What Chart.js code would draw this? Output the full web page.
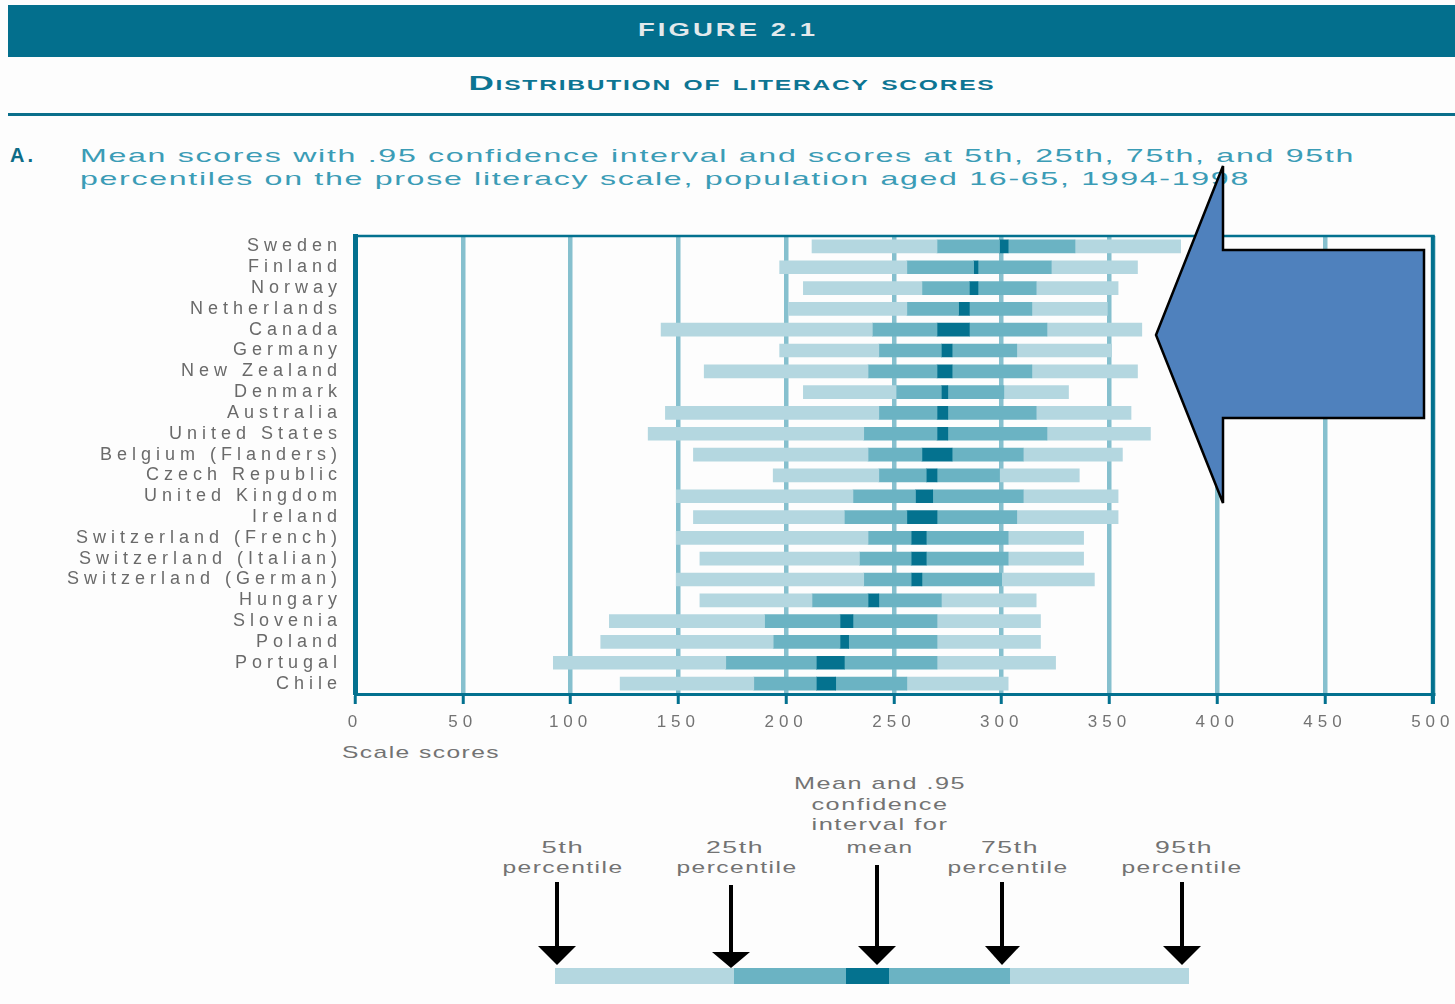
<!DOCTYPE html>
<html>
<head>
<meta charset="utf-8">
<title>Figure 2.1 - Distribution of literacy scores</title>
<script src="https://cdn.jsdelivr.net/npm/chart.js@4.4.1/dist/chart.umd.min.js"></script>
<style>
  body { margin: 0; background: #fdfdfd; font-family: "Liberation Sans", Arial, sans-serif; }
  #page { position: relative; width: 1455px; height: 1004px; overflow: hidden; }
  .abs { position: absolute; white-space: nowrap; line-height: 1; }
  .grey { color: #737373; font-size: 17px; letter-spacing: 1px; }
  #band { left: 8px; top: 5px; width: 1447px; height: 52px; background: #036f8d; }
  #rule { left: 8px; top: 113px; width: 1447px; height: 3px; background: #0a6f8b; }
  #chartBox { position: absolute; left: 0; top: 200px; width: 1455px; height: 534px; }
  #overlay { position: absolute; left: 0; top: 0; }
</style>
</head>
<body>
<div id="page">
  <div class="abs" id="band"></div>
  <div class="abs mid fit" data-w="180" style="left:728px; top:21px; font-size:18px; font-weight:bold; letter-spacing:2px; color:#e2e9ec;">FIGURE 2.1</div>
  <div class="abs mid fit" data-w="527" style="left:732px; top:73px; font-size:20px; font-weight:bold; font-variant:small-caps; letter-spacing:1px; color:#0d7593;">Distribution of literacy scores</div>
  <div class="abs" id="rule"></div>

  <div class="abs" style="left:10px; top:145px; font-size:20px; font-weight:bold; color:#0e6c86; letter-spacing:3px;">A.</div>
  <div class="abs fit" data-w="1275" style="left:80px; top:146px; font-size:19px; letter-spacing:1px; color:#3b9cb6;">Mean scores with .95 confidence interval and scores at 5th, 25th, 75th, and 95th</div>
  <div class="abs fit" data-w="1170" style="left:80px; top:169px; font-size:19px; letter-spacing:1px; color:#3b9cb6;">percentiles on the prose literacy scale, population aged 16-65, 1994-1998</div>

  <div id="chartBox"><canvas id="chart"></canvas></div>

  <div class="abs grey fit" data-w="158" style="left:342px; top:744px;">Scale scores</div>

  <div class="abs grey mid fit" data-w="172" style="left:880px; top:775px;">Mean and .95</div>
  <div class="abs grey mid fit" data-w="137" style="left:880px; top:796px;">confidence</div>
  <div class="abs grey mid fit" data-w="137" style="left:880px; top:816px;">interval for</div>
  <div class="abs grey mid fit" data-w="67" style="left:880px; top:839px;">mean</div>
  <div class="abs grey mid fit" data-w="43" style="left:563px; top:839px;">5th</div>
  <div class="abs grey mid fit" data-w="121" style="left:563px; top:859px;">percentile</div>
  <div class="abs grey mid fit" data-w="58" style="left:735px; top:839px;">25th</div>
  <div class="abs grey mid fit" data-w="121" style="left:737px; top:859px;">percentile</div>
  <div class="abs grey mid fit" data-w="58" style="left:1010px; top:839px;">75th</div>
  <div class="abs grey mid fit" data-w="121" style="left:1008px; top:859px;">percentile</div>
  <div class="abs grey mid fit" data-w="58" style="left:1184px; top:839px;">95th</div>
  <div class="abs grey mid fit" data-w="121" style="left:1182px; top:859px;">percentile</div>

  <svg id="overlay" width="1455" height="1004">
    <!-- pointer arrow over the chart -->
    <polygon points="1156,335 1223,166 1223,250 1424,250 1424,418 1223,418 1223,503"
             fill="#4f81bd" stroke="#000" stroke-width="2.5" stroke-linejoin="miter"/>
    <!-- key bar under the chart -->
    <rect x="555" y="968" width="179" height="16" fill="#b4d7e0"/>
    <rect x="734" y="968" width="112" height="16" fill="#6bb3c3"/>
    <rect x="846" y="968" width="43" height="16" fill="#04728f"/>
    <rect x="889" y="968" width="121" height="16" fill="#6bb3c3"/>
    <rect x="1010" y="968" width="179" height="16" fill="#b4d7e0"/>
    <g stroke="#000" stroke-width="4">
      <line x1="557" y1="882" x2="557" y2="950"/>
      <line x1="731" y1="885" x2="731" y2="955"/>
      <line x1="877" y1="865" x2="877" y2="950"/>
      <line x1="1002" y1="882" x2="1002" y2="950"/>
      <line x1="1182" y1="882" x2="1182" y2="950"/>
    </g>
    <g fill="#000">
      <polygon points="538,946 576,946 557,965"/>
      <polygon points="712,952 750,952 731,968"/>
      <polygon points="858,946 896,946 877,965"/>
      <polygon points="985,946 1020,946 1002,965"/>
      <polygon points="1163,946 1201,946 1182,965"/>
    </g>
  </svg>
</div>

<script>
// countries, top to bottom
const countries = ['Sweden', 'Finland', 'Norway', 'Netherlands', 'Canada', 'Germany', 'New Zealand',
  'Denmark', 'Australia', 'United States', 'Belgium (Flanders)', 'Czech Republic', 'United Kingdom',
  'Ireland', 'Switzerland (French)', 'Switzerland (Italian)', 'Switzerland (German)', 'Hungary',
  'Slovenia', 'Poland', 'Portugal', 'Chile'];

// scores
const p5   = [212, 197, 208, 201, 142, 197, 162, 208, 144, 136, 157, 194, 149, 157, 149, 160, 149, 160, 118, 114,  92, 123];
const p25  = [270, 256, 263, 256, 240, 243, 238, 251, 243, 236, 238, 243, 231, 227, 238, 234, 236, 212, 190, 194, 172, 185];
const ciLo = [299, 287, 285, 280, 270, 272, 270, 272, 270, 270, 263, 265, 260, 256, 258, 258, 258, 238, 225, 225, 214, 214];
const ciHi = [303, 289, 289, 285, 285, 277, 277, 275, 275, 275, 277, 270, 268, 270, 265, 265, 263, 243, 231, 229, 227, 223];
const p75  = [334, 323, 316, 314, 321, 307, 314, 301, 316, 321, 310, 299, 310, 307, 303, 303, 300, 272, 270, 270, 270, 256];
const p95  = [383, 363, 354, 349, 365, 351, 363, 331, 360, 369, 356, 336, 354, 354, 338, 338, 343, 316, 318, 318, 325, 303];

const xTicks = [0, 50, 100, 150, 200, 250, 300, 350, 400, 450, 500];

const LIGHT = '#b4d7e0', MID = '#6bb3c3', DARK = '#04728f', GRID = '#86c0ce', AXIS = '#03718f';

// the figure's lettering is stretched sideways: widen each text to its width in the figure
function fitText(el) {
  const target = +el.dataset.w;
  const w0 = el.getBoundingClientRect().width;
  const k = target / w0;
  if (el.classList.contains('mid')) {
    el.style.transformOrigin = 'center';
    el.style.transform = 'translateX(-50%) scaleX(' + k + ')';
  } else {
    el.style.transformOrigin = 'left';
    el.style.transform = 'scaleX(' + k + ')';
  }
}
document.querySelectorAll('.fit').forEach(fitText);

function span(a, b) {
  return a.map((v, i) => [v, b[i]]);
}

const segments = [
  { data: span(p5, p25), color: LIGHT },
  { data: span(p25, ciLo), color: MID },
  { data: span(ciLo, ciHi), color: DARK },
  { data: span(ciHi, p75), color: MID },
  { data: span(p75, p95), color: LIGHT }
];

const framePlugin = {
  id: 'frame',
  beforeDraw(chart) {
    chart.ctx.letterSpacing = '5px';
  },
  afterDatasetsDraw(chart) {
    const { ctx, chartArea: a } = chart;
    ctx.save();
    ctx.strokeStyle = AXIS;
    ctx.lineWidth = 2.5;
    ctx.beginPath();
    ctx.moveTo(a.left, a.top);
    ctx.lineTo(a.right + 2, a.top);
    ctx.stroke();
    ctx.lineWidth = 4;
    ctx.beginPath();
    ctx.moveTo(a.right, a.top);
    ctx.lineTo(a.right, a.bottom + 10);
    ctx.stroke();
    ctx.restore();
  }
};

const ctx = document.getElementById('chart').getContext('2d');
new Chart(ctx, {
  type: 'bar',
  data: {
    labels: countries,
    datasets: segments.map(s => ({
      data: s.data,
      backgroundColor: s.color,
      borderWidth: 0,
      grouped: false,
      barThickness: 13
    }))
  },
  options: {
    indexAxis: 'y',
    responsive: true,
    maintainAspectRatio: false,
    animation: false,
    layout: { padding: { top: 36, right: 20, left: 0, bottom: 0 } },
    plugins: {
      legend: { display: false },
      tooltip: { enabled: false }
    },
    scales: {
      x: {
        min: 0,
        max: 500,
        afterBuildTicks: (scale) => { scale.ticks = xTicks.map(v => ({ value: v })); },
        afterFit: (scale) => { scale.height = 40; },
        grid: {
          color: GRID,
          lineWidth: 4.5,
          tickColor: AXIS,
          tickWidth: 3,
          tickLength: 10
        },
        border: { color: AXIS, width: 3 },
        ticks: {
          color: '#737373',
          padding: 8,
          font: { family: 'Liberation Sans', size: 17 }
        }
      },
      y: {
        afterFit: (scale) => { scale.width = 355; },
        grid: { display: false, drawTicks: false },
        border: { color: AXIS, width: 5 },
        ticks: {
          color: '#6a6a6a',
          padding: 13,
          autoSkip: false,
          font: { family: 'Liberation Sans', size: 18 }
        }
      }
    }
  },
  plugins: [framePlugin]
});
</script>
</body>
</html>
